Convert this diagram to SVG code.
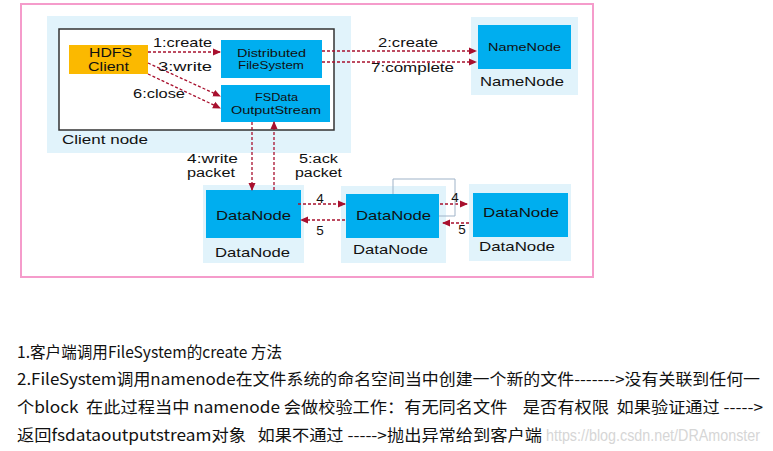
<svg xmlns="http://www.w3.org/2000/svg" width="773" height="451" viewBox="0 0 773 451">
<defs>
<marker id="ah" markerWidth="8" markerHeight="8" refX="7" refY="4" orient="auto" markerUnits="userSpaceOnUse">
<path d="M0,0.5 L8,4 L0,7.5 Z" fill="#a8102e"/>
</marker>
</defs>
<style>
.panel{fill:#e1f3fb}
.blue{fill:#00aeef}
.t{font-family:"Liberation Sans",Arial,sans-serif;fill:#111;font-size:13.5px}
.m{font-size:12.5px}
.s{font-size:11px}
.c{stroke:#a8102e;stroke-width:1.3;stroke-dasharray:3,2;fill:none;marker-end:url(#ah)}
.zh{font-family:"Noto Sans CJK SC","Microsoft YaHei",sans-serif;font-size:16px;fill:#111;white-space:pre}
</style>
<rect width="773" height="451" fill="#fff"/>
<rect x="21" y="4" width="572" height="273" fill="none" stroke="#f59ccb" stroke-width="2"/>

<g id="client-node">
<rect class="panel" x="47" y="16" width="304" height="137"/>
<rect x="59" y="29" width="275" height="101" fill="#fff" stroke="#333" stroke-width="1.5"/>
<text class="t" x="62" y="144" textLength="86" lengthAdjust="spacingAndGlyphs">Client node</text>
</g>
<g id="hdfs-client">
<rect x="69" y="45" width="79" height="29" fill="#fbb900"/>
<text class="t m" x="89" y="57" textLength="43" lengthAdjust="spacingAndGlyphs">HDFS</text>
<text class="t m" x="88" y="71" textLength="41" lengthAdjust="spacingAndGlyphs">Client</text>
</g>
<g id="dfs">
<rect class="blue" x="221" y="40" width="101" height="38"/>
<text class="t s" x="237" y="57" textLength="69" lengthAdjust="spacingAndGlyphs">Distributed</text>
<text class="t s" x="238" y="69" textLength="66" lengthAdjust="spacingAndGlyphs">FileSystem</text>
</g>
<g id="fsdos">
<rect class="blue" x="221" y="85" width="109" height="37"/>
<text class="t s" x="255" y="101" textLength="43" lengthAdjust="spacingAndGlyphs">FSData</text>
<text class="t s" x="231" y="114" textLength="90" lengthAdjust="spacingAndGlyphs">OutputStream</text>
</g>
<g id="namenode">
<rect class="panel" x="471" y="17" width="107" height="78"/>
<rect class="blue" x="478" y="25" width="93" height="44"/>
<text class="t s" x="488" y="51" textLength="73" lengthAdjust="spacingAndGlyphs">NameNode</text>
<text class="t" x="480" y="86" textLength="84" lengthAdjust="spacingAndGlyphs">NameNode</text>
</g>
<g id="datanode1">
<rect class="panel" x="203" y="185" width="101" height="78"/>
<rect class="blue" x="206" y="190" width="95" height="48"/>
<text class="t" x="216" y="220" textLength="75" lengthAdjust="spacingAndGlyphs">DataNode</text>
<text class="t" x="215" y="257" textLength="75" lengthAdjust="spacingAndGlyphs">DataNode</text>
</g>
<g id="datanode2">
<rect class="panel" x="341" y="186" width="105" height="77"/>
<rect class="blue" x="346" y="194" width="93" height="44"/>
<text class="t" x="356" y="220" textLength="75" lengthAdjust="spacingAndGlyphs">DataNode</text>
<text class="t" x="353" y="254" textLength="75" lengthAdjust="spacingAndGlyphs">DataNode</text>
</g>
<g id="datanode3">
<rect class="panel" x="469" y="184" width="102" height="77"/>
<rect class="blue" x="473" y="193" width="95" height="44"/>
<text class="t" x="483" y="217" textLength="76" lengthAdjust="spacingAndGlyphs">DataNode</text>
<text class="t" x="479" y="251" textLength="76" lengthAdjust="spacingAndGlyphs">DataNode</text>
</g>

<g id="connectors">
<path class="c" d="M148,52 L220,52"/>
<path class="c" d="M148,63 L220,96"/>
<path class="c" d="M148,74 L220,108"/>
<path class="c" d="M322,51 L476,51"/>
<path class="c" d="M322,62 L476,62"/>
<path class="c" d="M252,122 L252,190"/>
<path class="c" d="M274,190 L274,122"/>
<path class="c" d="M298,204 L345,204"/>
<path class="c" d="M345,220 L301,220"/>
<path class="c" d="M440,204 L467,204"/>
<path class="c" d="M469,223 L443,223"/>
<path d="M393,194 L393,179 L455,179 L455,216 L439,216" fill="none" stroke="#9fb3c8" stroke-width="1"/>
<text class="t" x="153" y="47" textLength="59" lengthAdjust="spacingAndGlyphs">1:create</text>
<text class="t" x="158" y="71" textLength="54" lengthAdjust="spacingAndGlyphs">3:write</text>
<text class="t" x="133" y="98" textLength="52" lengthAdjust="spacingAndGlyphs">6:close</text>
<text class="t" x="378" y="47" textLength="60" lengthAdjust="spacingAndGlyphs">2:create</text>
<text class="t" x="371" y="72" textLength="83" lengthAdjust="spacingAndGlyphs">7:complete</text>
<text class="t m" x="187" y="163" textLength="51" lengthAdjust="spacingAndGlyphs">4:write</text>
<text class="t m" x="187" y="177" textLength="48" lengthAdjust="spacingAndGlyphs">packet</text>
<text class="t m" x="299" y="163" textLength="39" lengthAdjust="spacingAndGlyphs">5:ack</text>
<text class="t m" x="295" y="177" textLength="47" lengthAdjust="spacingAndGlyphs">packet</text>
<text class="t" x="320" y="203" text-anchor="middle">4</text>
<text class="t" x="320" y="235" text-anchor="middle">5</text>
<text class="t" x="455" y="202" text-anchor="middle">4</text>
<text class="t" x="462" y="234" text-anchor="middle">5</text>
</g>

<text class="zh" xml:space="preserve" x="17" y="358" textLength="265" lengthAdjust="spacingAndGlyphs">1.客户端调用FileSystem的create 方法</text>
<text class="zh" xml:space="preserve" x="17" y="385" textLength="743" lengthAdjust="spacingAndGlyphs">2.FileSystem调用namenode在文件系统的命名空间当中创建一个新的文件-------&gt;没有关联到任何一</text>
<text class="zh" xml:space="preserve" x="17" y="413" textLength="746" lengthAdjust="spacingAndGlyphs">个block  在此过程当中 namenode 会做校验工作：有无同名文件    是否有权限  如果验证通过 -----&gt;</text>
<text x="546" y="441" font-family="Liberation Sans,Arial,sans-serif" font-size="16" fill="#d6d6d6" textLength="214" lengthAdjust="spacingAndGlyphs">https://blog.csdn.net/DRAmonster</text>
<text class="zh" xml:space="preserve" x="17" y="441" textLength="525" lengthAdjust="spacingAndGlyphs">返回fsdataoutputstream对象   如果不通过 -----&gt;抛出异常给到客户端</text>
</svg>
